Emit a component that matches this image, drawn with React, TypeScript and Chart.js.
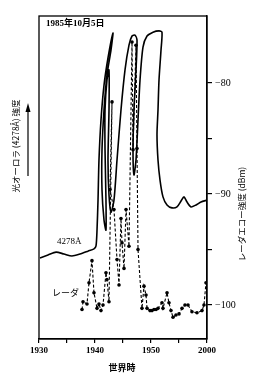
import { useEffect, useRef } from 'react';
import { Chart, registerables } from 'chart.js';

Chart.register(...registerables);

// x values: minutes after 19:30 UT
const xTickMinutes = [0, 5, 10, 15, 20, 25, 30];
const xTickLabels: Record<number, string> = { 0: '1930', 10: '1940', 20: '1950', 30: '2000' };

// Aurora 4278Å intensity (arbitrary units, 0-100), chart-recorder trace (loops back in time)
const auroraT = [
  0.18, 1.61, 3.04, 4.46, 5.89, 7.32, 8.75, 9.82, 10.18, 10.36, 10.54, 10.71, 11.07, 11.61, 12.32, 13.21,
  12.86, 12.14, 11.61, 11.25, 11.25, 11.61, 11.96,
  11.96, 11.79, 11.79, 12.14, 12.5,
  12.5, 12.32, 12.5, 12.86,
  13.39, 13.93, 14.64, 15.36, 16.07, 16.61, 17.14, 17.5, 17.32, 16.96, 16.79, 16.96,
  17.32, 17.68, 18.04, 18.57, 19.29, 20.36, 21.43, 21.96, 21.79, 21.43, 21.25, 21.07, 21.25, 21.61,
  22.14, 22.86, 23.75, 24.64, 25.36, 25.89, 26.43, 27.14, 28.04, 28.93, 30.0,
];
const auroraV = [
  25.1, 26.0, 26.9, 26.3, 25.7, 26.3, 27.2, 27.9, 28.8, 33.7, 43.0, 55.4, 67.8, 78.6, 87.0, 94.7,
  89.5, 81.7, 70.9, 58.5, 46.1, 36.8, 33.7,
  43.0, 58.5, 70.9, 80.2, 83.3,
  70.9, 55.4, 44.6, 39.3,
  43.0, 55.4, 70.9, 83.3, 91.0, 93.8, 94.1, 92.6, 83.3, 70.9, 58.5, 50.8,
  55.4, 67.8, 80.2, 90.4, 93.8, 95.0, 95.4, 95.0, 89.5, 80.2, 70.9, 63.2, 55.4, 49.2,
  44.0, 41.5, 40.6, 40.9, 42.7, 44.0, 42.4, 40.9, 41.5, 42.4, 43.0,
];

// Radar echo intensity (dBm)
const radarT = [
  7.68, 7.86, 8.57, 8.93, 9.46, 9.82, 10.36, 10.71, 11.07, 11.43, 11.96, 12.14, 12.5,
  13.04, 12.68, 13.39, 13.93, 14.29, 14.64, 14.82, 15.18, 15.54, 16.07,
  16.61, 16.79, 17.32, 17.5, 17.68, 18.39, 18.75, 19.11, 19.29, 19.82, 20.18, 20.54, 20.9, 21.25,
  21.96, 22.14, 22.86, 23.21, 23.57, 23.93, 24.46, 25.0, 25.54, 26.07, 26.61, 27.32, 28.21, 29.11,
  29.46, 29.82,
];
const radarDbm = [
  -100.4, -99.7, -99.9, -98.0, -96.0, -98.9, -100.3, -99.9, -100.5, -100.0, -97.1, -97.7, -99.7,
  -81.7, -89.6, -91.4, -95.9, -98.2, -92.2, -94.4, -96.7, -91.4, -94.7,
  -76.3, -86.0, -76.6, -85.9, -95.0, -100.3, -98.3, -99.1, -100.3, -100.5, -100.5, -100.4, -100.4, -100.3,
  -99.8, -100.3, -98.9, -99.8, -100.5, -101.1, -100.9, -100.8, -100.3, -100.0, -100.0, -100.6, -100.7, -100.5,
  -100.0, -98.0,
];
const radarTicks = [-100, -95, -90, -85, -80];
const radarLabeled = [-80, -90, -100];

const serif = '"Liberation Serif", "DejaVu Serif", serif';
const jp = '"Noto Sans CJK JP", "Noto Sans", sans-serif';

const decor = {
  id: 'decor',
  afterDraw(chart: any) {
    const { ctx, chartArea: a } = chart;
    ctx.save();
    ctx.strokeStyle = '#000';
    ctx.fillStyle = '#000';
    ctx.lineWidth = 1.3;
    ctx.strokeRect(a.left, a.top, a.right - a.left, a.bottom - a.top);

    ctx.textBaseline = 'middle';
    ctx.textAlign = 'left';
    ctx.font = `bold 9px ${serif}, ${jp}`;
    ctx.fillText('1985年10月5日', 46, 24);

    ctx.font = `9px ${serif}`;
    ctx.fillText('4278Å', 57, 242);

    ctx.font = `9px ${jp}`;
    ctx.fillText('レーダ', 52, 293);

    ctx.textAlign = 'center';
    ctx.font = `bold 9px ${jp}`;
    ctx.fillText('世界時', 122, 368);

    // left title
    ctx.save();
    ctx.translate(16, 146);
    ctx.rotate(-Math.PI / 2);
    ctx.font = `8.5px ${jp}`;
    ctx.fillText('光オーロラ (4278Å) 強度', 0, 0);
    ctx.restore();

    // right title
    ctx.save();
    ctx.translate(242, 214);
    ctx.rotate(-Math.PI / 2);
    ctx.font = `8.5px ${jp}`;
    ctx.fillText('レーダエコー強度 (dBm)', 0, 0);
    ctx.restore();

    // arrow
    ctx.lineWidth = 1.2;
    ctx.beginPath();
    ctx.moveTo(28, 176);
    ctx.lineTo(28, 110);
    ctx.stroke();
    ctx.beginPath();
    ctx.moveTo(28, 103);
    ctx.lineTo(25.5, 112);
    ctx.lineTo(30.5, 112);
    ctx.closePath();
    ctx.fill();
    ctx.restore();
  },
};

export default function App() {
  const ref = useRef<HTMLCanvasElement>(null);
  useEffect(() => {
    if (!ref.current) return;
    const chart = new Chart(ref.current, {
      type: 'scatter',
      data: {
        datasets: [
          {
            label: '4278Å',
            data: auroraT.map((t, i) => ({ x: t, y: auroraV[i] })),
            yAxisID: 'yA',
            showLine: true,
            borderColor: '#000',
            borderWidth: 1.6,
            pointRadius: 0,
            tension: 0.25,
          },
          {
            label: 'レーダ',
            data: radarT.map((t, i) => ({ x: t, y: radarDbm[i] })),
            yAxisID: 'y',
            showLine: true,
            borderColor: '#000',
            backgroundColor: '#000',
            borderWidth: 1.1,
            borderDash: [3, 2],
            pointRadius: 1.8,
            pointBorderWidth: 0,
            tension: 0,
          },
        ],
      },
      plugins: [decor],
      options: {
        animation: false,
        responsive: false,
        maintainAspectRatio: false,
        layout: { padding: { left: 39, top: 16, right: 0, bottom: 0 } },
        plugins: { legend: { display: false }, tooltip: { enabled: false } },
        scales: {
          x: {
            type: 'linear',
            position: 'bottom',
            min: 0,
            max: 30,
            afterBuildTicks: (s: any) => {
              s.ticks = xTickMinutes.map((v) => ({ value: v }));
            },
            afterFit: (s: any) => {
              s.height = 42;
            },
            ticks: {
              color: '#000',
              padding: 2,
              maxRotation: 0,
              autoSkip: false,
              font: { family: serif, size: 9, weight: 'bold' },
              callback: (v: any) => xTickLabels[v] ?? '',
            },
            grid: { drawOnChartArea: false, drawTicks: true, tickLength: 4, color: '#000', lineWidth: 1.2 },
            border: { display: true, color: '#000', width: 1.3 },
          },
          yA: {
            type: 'linear',
            display: false,
            position: 'left',
            min: 0,
            max: 100,
          },
          y: {
            type: 'linear',
            position: 'right',
            min: -103.06,
            max: -73.96,
            afterBuildTicks: (s: any) => {
              s.ticks = radarTicks.map((v) => ({ value: v }));
            },
            afterFit: (s: any) => {
              s.width = 52;
            },
            ticks: {
              color: '#000',
              padding: 3,
              autoSkip: false,
              font: { family: serif, size: 10 },
              callback: (v: any) => (radarLabeled.includes(v) ? '−' + Math.abs(v) : ''),
            },
            grid: { drawOnChartArea: false, drawTicks: true, tickLength: 5, color: '#000', lineWidth: 1.2 },
            border: { display: true, color: '#000', width: 1.3 },
          },
        },
      },
    } as any);
    return () => chart.destroy();
  }, []);
  return (
    <div style={{ position: 'absolute', left: 0, top: 0, width: 259, height: 381, background: '#fff' }}>
      <canvas ref={ref} width={259} height={381} style={{ width: 259, height: 381 }} />
    </div>
  );
}
